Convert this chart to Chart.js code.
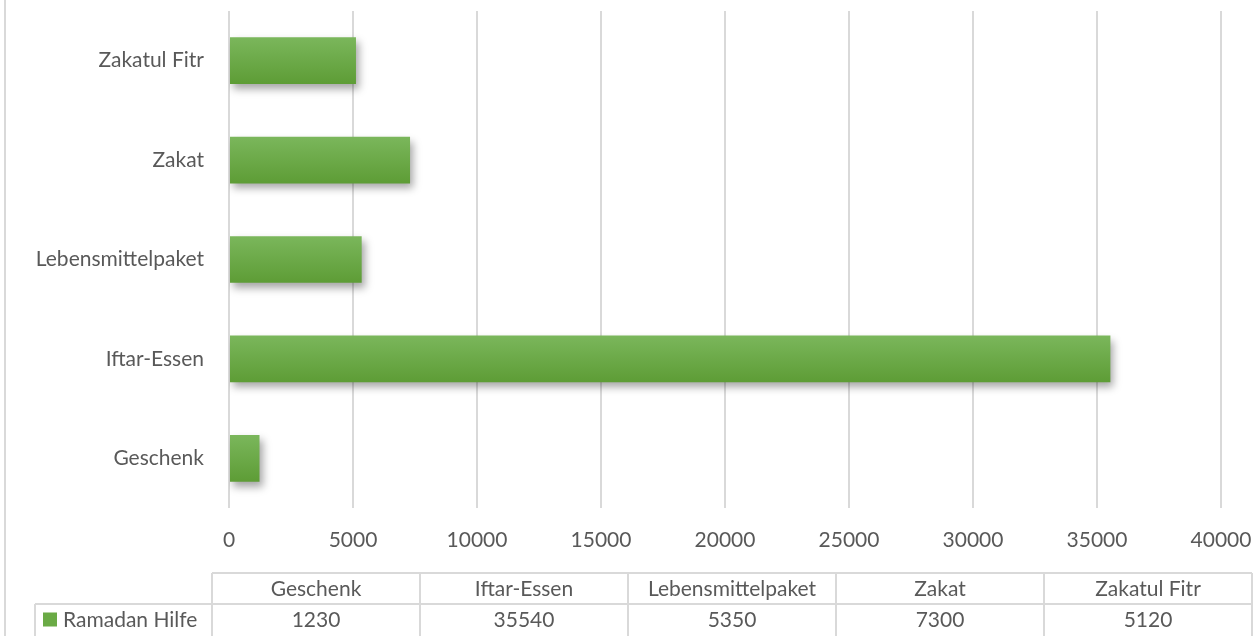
<!DOCTYPE html>
<html>
<head>
<meta charset="utf-8">
<script src="https://cdn.jsdelivr.net/npm/chart.js@4/dist/chart.umd.min.js"></script>
<style>
  html, body { margin: 0; padding: 0; background: #fff; }
  #wrap { width: 1256px; height: 636px; }
</style>
</head>
<body>
<div id="wrap"><canvas id="hilfeChart"></canvas></div>
<script>
let categories = ["Geschenk", "Iftar-Essen", "Lebensmittelpaket", "Zakat", "Zakatul Fitr"];
let series_name = "Ramadan Hilfe";
let series_values = [1230, 35540, 5350, 7300, 5120];
let x_ticks = [0, 5000, 10000, 15000, 20000, 25000, 30000, 35000, 40000];

const font_family = "Lato, 'Open Sans', sans-serif";
const text_color = "#595959";
const line_color = "#d9d9d9";

// gradient for every bar, top lighter than bottom
function barGradient(context) {
  const chart = context.chart;
  const yScale = chart.scales.y;
  if (!yScale || context.dataIndex === undefined) return "#6aaa45";
  const center = yScale.getPixelForValue(context.dataIndex);
  if (!isFinite(center)) return "#6aaa45";
  const g = chart.ctx.createLinearGradient(0, center - 24, 0, center + 24);
  g.addColorStop(0, "#7bb75c");
  g.addColorStop(1, "#5d9c35");
  return g;
}

const barShadow = {
  id: "barShadow",
  beforeDatasetsDraw(chart) {
    const ctx = chart.ctx;
    ctx.save();
    ctx.shadowColor = "rgba(0,0,0,0.35)";
    ctx.shadowBlur = 8;
    ctx.shadowOffsetX = 3;
    ctx.shadowOffsetY = 5;
  },
  afterDatasetsDraw(chart) {
    chart.ctx.restore();
  }
};

// data table under the axis, like the spreadsheet one
const dataTable = {
  id: "dataTable",
  afterDraw(chart) {
    const ctx = chart.ctx;
    const left = 212, right = 1252, top = 573, rowH = 31, legendLeft = 35;
    const colW = (right - left) / categories.length;
    ctx.save();
    ctx.strokeStyle = line_color;
    ctx.lineWidth = 2;
    ctx.beginPath();
    // outer chart border on the left
    ctx.moveTo(5, 0); ctx.lineTo(5, 636);
    // header row
    ctx.moveTo(left, top); ctx.lineTo(right, top);
    ctx.moveTo(legendLeft, top + rowH); ctx.lineTo(right, top + rowH);
    ctx.moveTo(legendLeft, top + rowH); ctx.lineTo(legendLeft, 636);
    for (let i = 0; i <= categories.length; i++) {
      ctx.moveTo(left + i * colW, top); ctx.lineTo(left + i * colW, 636);
    }
    ctx.stroke();

    ctx.fillStyle = text_color;
    ctx.font = "21px " + font_family;
    ctx.textAlign = "center";
    ctx.textBaseline = "middle";
    categories.forEach((c, i) => {
      ctx.fillText(c, left + i * colW + colW / 2, top + rowH / 2 + 1);
      ctx.fillText(String(series_values[i]), left + i * colW + colW / 2, top + rowH * 1.5 + 1);
    });

    ctx.fillStyle = "#6aaa45";
    ctx.fillRect(43, top + rowH * 1.5 - 7, 14, 14);
    ctx.fillStyle = text_color;
    ctx.textAlign = "left";
    ctx.fillText(series_name, 63, top + rowH * 1.5 + 1);
    ctx.restore();
  }
};

new Chart("hilfeChart", {
  type: "bar",
  data: {
    labels: categories,
    datasets: [{
      label: series_name,
      data: series_values,
      backgroundColor: barGradient,
      borderWidth: 0,
      barPercentage: 0.47,
      categoryPercentage: 1
    }]
  },
  options: {
    indexAxis: "y",
    responsive: true,
    maintainAspectRatio: false,
    animation: false,
    layout: { padding: { top: 11, right: 35, left: 0, bottom: 0 } },
    plugins: {
      legend: { display: false },
      tooltip: { enabled: false }
    },
    scales: {
      x: {
        min: 0,
        max: 40000,
        afterBuildTicks(scale) {
          scale.ticks = x_ticks.map(v => ({ value: v }));
        },
        afterFit(scale) {
          scale.height = 128;
          scale.paddingLeft = 0;
          scale.paddingRight = 0;
        },
        grid: { color: line_color, lineWidth: 2, drawTicks: false },
        border: { display: false },
        ticks: {
          color: text_color,
          padding: 20,
          font: { family: font_family, size: 21 },
          callback: v => String(v)
        }
      },
      y: {
        reverse: true,
        afterFit(scale) {
          scale.width = 229;
          scale.paddingTop = 0;
          scale.paddingBottom = 0;
        },
        grid: { display: false, drawTicks: false },
        border: { display: false },
        ticks: { color: text_color, padding: 25, font: { family: font_family, size: 21 } }
      }
    }
  },
  plugins: [barShadow, dataTable]
});
</script>
</body>
</html>
